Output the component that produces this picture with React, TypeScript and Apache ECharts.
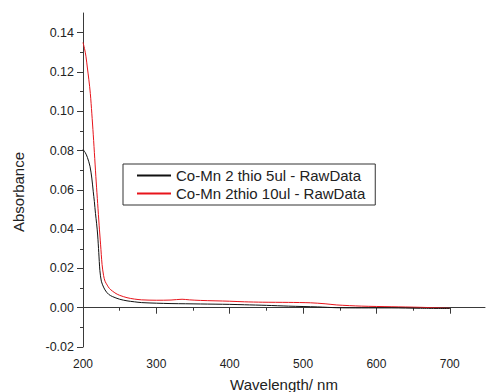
import React, { useEffect, useRef } from "react";
import * as echarts from "echarts";

const blackWl = [200, 203, 206, 209.5, 212, 214, 215.5, 217, 218.5, 220, 221.5, 223, 225, 228, 231, 235, 240, 250, 260, 270, 280, 300, 320, 340, 360, 380, 400, 420, 450, 480, 500, 520, 546, 580, 620, 660, 700];
const blackAbs = [0.0805, 0.079, 0.0765, 0.072, 0.066, 0.059, 0.054, 0.048, 0.043, 0.037, 0.028, 0.019, 0.0135, 0.0105, 0.0085, 0.0068, 0.0057, 0.0043, 0.0035, 0.003, 0.0026, 0.0023, 0.0021, 0.002, 0.0019, 0.0018, 0.0017, 0.0015, 0.0012, 0.0008, 0.0006, 0.0004, 0.0, -0.0001, -0.0001, -0.0003, -0.0004];

const redWl = [200, 202, 204, 206, 208, 210, 212, 214, 216, 218, 220, 222, 224, 226, 228, 230, 233, 236, 240, 245, 250, 260, 270, 280, 300, 320, 335, 345, 360, 380, 400, 420, 445, 480, 510, 530, 546, 580, 620, 660, 700];
const redAbs = [0.135, 0.132, 0.128, 0.122, 0.116, 0.109, 0.099, 0.088, 0.076, 0.064, 0.053, 0.042, 0.032, 0.022, 0.0165, 0.0135, 0.0115, 0.0098, 0.0085, 0.0072, 0.0063, 0.0051, 0.0044, 0.004, 0.0038, 0.0039, 0.0043, 0.004, 0.0037, 0.0035, 0.0033, 0.003, 0.0028, 0.0027, 0.0025, 0.002, 0.0014, 0.0008, 0.0005, 0.0002, -0.0003];

const seriesNames = ["Co-Mn 2 thio 5ul - RawData", "Co-Mn 2thio 10ul - RawData"];
const xMajor = [200, 300, 400, 500, 600, 700];
const xMinor = [250, 350, 450, 550, 650, 750];
const yMajor = [-0.02, 0, 0.02, 0.04, 0.06, 0.08, 0.1, 0.12, 0.14];
const yMinor = [-0.01, 0.01, 0.03, 0.05, 0.07, 0.09, 0.11, 0.13];

const AX = "#3a3a3a";
const TXT = "#222";
const FONT = "'Liberation Sans', Arial, sans-serif";

export default function App() {
  const ref = useRef<HTMLDivElement>(null);
  useEffect(() => {
    if (!ref.current) return;
    const chart = echarts.init(ref.current, null, { renderer: "svg" });
    const xBase = {
      type: "value",
      min: 200,
      max: 748,
      position: "bottom",
      splitLine: { show: false },
      axisLine: { show: true, lineStyle: { color: AX, width: 1 } },
    };
    const yBase = {
      type: "value",
      min: -0.02,
      max: 0.15,
      position: "left",
      offset: 0,
      splitLine: { show: false },
      axisLine: { show: true, lineStyle: { color: AX, width: 1 } },
    };
    chart.setOption({
      animation: false,
      backgroundColor: "#fff",
      textStyle: { fontFamily: FONT },
      grid: { left: 83, right: 1, top: 13, bottom: 45, containLabel: false },
      xAxis: [
        {
          ...xBase,
          axisTick: { show: true, inside: false, length: 6, customValues: xMajor, lineStyle: { color: AX } },
          axisLabel: { show: true, customValues: xMajor, color: TXT, fontSize: 12, margin: 11, fontFamily: FONT },
        },
        {
          ...xBase,
          axisLine: { show: false },
          axisTick: { show: true, inside: false, length: 3, customValues: xMinor, lineStyle: { color: AX } },
          axisLabel: { show: false },
        },
      ],
      yAxis: [
        {
          ...yBase,
          axisTick: { show: true, inside: false, length: 6, customValues: yMajor, lineStyle: { color: AX } },
          axisLabel: {
            show: true,
            customValues: yMajor,
            color: TXT,
            fontSize: 12.5,
            margin: 9,
            fontFamily: FONT,
            formatter: (v: number) => v.toFixed(2),
          },
        },
        {
          ...yBase,
          axisLine: { show: false },
          axisTick: { show: true, inside: false, length: 3, customValues: yMinor, lineStyle: { color: AX } },
          axisLabel: { show: false },
        },
      ],
      legend: {
        show: true,
        orient: "vertical",
        left: 123,
        top: 164,
        padding: [4, 10, 4, 14],
        itemGap: 3,
        itemWidth: 34,
        itemHeight: 2,
        icon: "rect",
        borderColor: "#333",
        borderWidth: 1,
        backgroundColor: "#fff",
        textStyle: { fontSize: 15, color: TXT, fontFamily: FONT },
        data: seriesNames,
      },
      graphic: [
        {
          type: "text",
          x: 18,
          y: 192,
          rotation: Math.PI / 2,
          style: {
            text: "Absorbance",
            fontSize: 15,
            fontFamily: FONT,
            fill: TXT,
            align: "center",
            verticalAlign: "middle",
          },
        },
        {
          type: "text",
          x: 284,
          y: 384,
          style: {
            text: "Wavelength/ nm",
            fontSize: 15,
            fontFamily: FONT,
            fill: TXT,
            align: "center",
            verticalAlign: "middle",
          },
        },
      ],
      series: [
        {
          name: seriesNames[0],
          type: "line",
          xAxisIndex: 0,
          yAxisIndex: 0,
          data: blackWl.map((w, i) => [w, blackAbs[i]]),
          showSymbol: false,
          smooth: 0.3,
          color: "#111",
          lineStyle: { color: "#111", width: 1 },
          z: 3,
        },
        {
          name: seriesNames[1],
          type: "line",
          xAxisIndex: 0,
          yAxisIndex: 0,
          data: redWl.map((w, i) => [w, redAbs[i]]),
          showSymbol: false,
          smooth: 0.3,
          color: "#e8141b",
          lineStyle: { color: "#e8141b", width: 1 },
          z: 2,
        },
      ],
    });
    return () => chart.dispose();
  }, []);
  return <div ref={ref} style={{ width: 486, height: 392, position: "absolute", left: 0, top: 0 }} />;
}
